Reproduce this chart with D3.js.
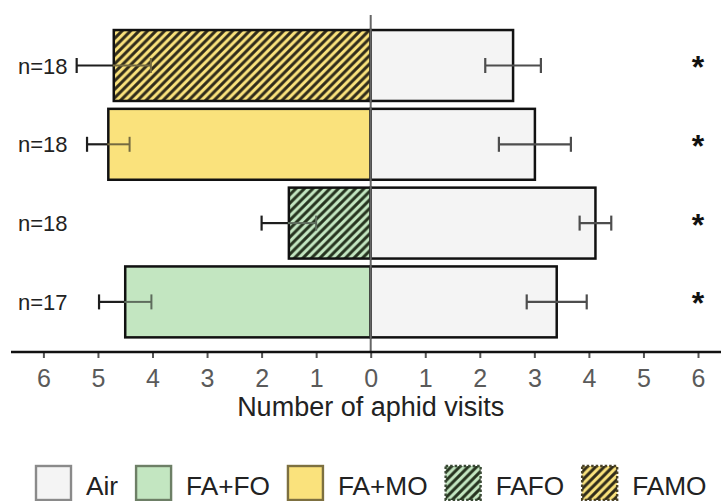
<!DOCTYPE html>
<html>
<head>
<meta charset="utf-8">
<script src="https://cdn.jsdelivr.net/npm/d3@7"></script>
<style>
  html, body { margin: 0; padding: 0; background: #ffffff; }
  svg { display: block; font-family: "Liberation Sans", Arial, sans-serif; }
</style>
</head>
<body>
<svg id="chart" width="721" height="501"></svg>
<script>
// ---------------- data ----------------
const categories = ["FAMO", "FA+MO", "FAFO", "FA+FO"];
const nLabels = ["n=18", "n=18", "n=18", "n=17"];
const treatmentMeans = [4.71, 4.81, 1.50, 4.50];
const treatmentErr = [0.68, 0.39, 0.50, 0.48];
const airMeans = [2.61, 3.01, 4.12, 3.41];
const airErr = [0.51, 0.66, 0.29, 0.55];
const significance = ["*", "*", "*", "*"];
const xTickValues = [-6, -5, -4, -3, -2, -1, 0, 1, 2, 3, 4, 5, 6];
const legendLabels = ["Air", "FA+FO", "FA+MO", "FAFO", "FAMO"];
const axisTitle = "Number of aphid visits";

// ---------------- styles ----------------
const baseColor = { "Air": "#f4f4f4", "FA+FO": "#c3e6c1", "FA+MO": "#fae27c", "FAFO": "#c3e6c1", "FAMO": "#fae27c" };
const hatched = { "FAFO": true, "FAMO": true };
const hatchColor = { "FAFO": "#26331f", "FAMO": "#302b1a" };
const legendStroke = { "Air": "#8a8a8a", "FA+FO": "#6d7f66", "FA+MO": "#7d7040", "FAFO": "#3a4a35", "FAMO": "#4a4228" };

const svg = d3.select("#chart");
const defs = svg.append("defs");

const P = 8.5;
Object.keys(hatched).forEach(k => {
  const p = defs.append("pattern")
    .attr("id", "hatch-" + k.replace(/\W/g, ""))
    .attr("patternUnits", "userSpaceOnUse")
    .attr("width", P).attr("height", P);
  p.append("rect").attr("width", P).attr("height", P).attr("fill", baseColor[k]);
  p.append("path")
    .attr("d", `M-2,2 L2,-2 M0,${P} L${P},0 M${P - 2},${P + 2} L${P + 2},${P - 2}`)
    .attr("stroke", hatchColor[k]).attr("stroke-width", 3).attr("fill", "none");
});
const fillFor = k => hatched[k] ? `url(#hatch-${k.replace(/\W/g, "")})` : baseColor[k];

// ---------------- scales ----------------
const x = d3.scaleLinear().domain([-6, 6]).range([43.4, 698.0]);
const y = d3.scaleBand().domain(categories).range([26.1, 341.3]).paddingInner(0.1).paddingOuter(0.05);
const axisY = 352;

// ---------------- left (treatment) error bars: outside portion ----------------
const capH = 7.5;
categories.forEach((c, i) => {
  const cy = y(c) + y.bandwidth() / 2;
  const m = treatmentMeans[i], e = treatmentErr[i];
  svg.append("line").attr("x1", x(-m)).attr("x2", x(-(m + e))).attr("y1", cy).attr("y2", cy)
    .attr("stroke", "#1e1e1e").attr("stroke-width", 2.2);
  svg.append("line").attr("x1", x(-(m + e))).attr("x2", x(-(m + e))).attr("y1", cy - capH).attr("y2", cy + capH)
    .attr("stroke", "#1e1e1e").attr("stroke-width", 2.2);
});

// ---------------- bars ----------------
categories.forEach((c, i) => {
  svg.append("rect")
    .attr("x", x(-treatmentMeans[i])).attr("y", y(c))
    .attr("width", x(0) - x(-treatmentMeans[i])).attr("height", y.bandwidth())
    .attr("fill", fillFor(c)).attr("stroke", "#111").attr("stroke-width", 2.5);
  svg.append("rect")
    .attr("x", x(0)).attr("y", y(c))
    .attr("width", x(airMeans[i]) - x(0)).attr("height", y.bandwidth())
    .attr("fill", baseColor["Air"]).attr("stroke", "#111").attr("stroke-width", 2.5);
});

// inner portion of left error bars (seen through the bar)
categories.forEach((c, i) => {
  const cy = y(c) + y.bandwidth() / 2;
  const m = treatmentMeans[i], e = treatmentErr[i];
  const inner = d3.interpolateRgb(baseColor[c], "#1a1a1a")(0.6);
  const lo = Math.max(m - e, 0);
  svg.append("line").attr("x1", x(-lo)).attr("x2", x(-m) - 1).attr("y1", cy).attr("y2", cy)
    .attr("stroke", inner).attr("stroke-width", 2);
  svg.append("line").attr("x1", x(-lo)).attr("x2", x(-lo)).attr("y1", cy - capH).attr("y2", cy + capH)
    .attr("stroke", inner).attr("stroke-width", 2);
});

// right (air) error bars
categories.forEach((c, i) => {
  const cy = y(c) + y.bandwidth() / 2;
  const m = airMeans[i], e = airErr[i];
  const g = svg.append("g").attr("stroke", "#4d4d4d").attr("stroke-width", 2.2);
  g.append("line").attr("x1", x(m - e)).attr("x2", x(m + e)).attr("y1", cy).attr("y2", cy);
  g.append("line").attr("x1", x(m - e)).attr("x2", x(m - e)).attr("y1", cy - capH).attr("y2", cy + capH);
  g.append("line").attr("x1", x(m + e)).attr("x2", x(m + e)).attr("y1", cy - capH).attr("y2", cy + capH);
});

// zero line
svg.append("line").attr("x1", x(0)).attr("x2", x(0)).attr("y1", 15).attr("y2", axisY)
  .attr("stroke", "#666").attr("stroke-width", 2);

// ---------------- axis ----------------
const axis = d3.axisBottom(x).tickValues(xTickValues).tickSize(6).tickSizeOuter(0)
  .tickFormat(d => String(Math.abs(d)));
const gAxis = svg.append("g").attr("transform", `translate(0,${axisY})`).call(axis);
gAxis.attr("font-size", null).attr("font-family", null);
gAxis.select(".domain").remove();
gAxis.selectAll(".tick line").attr("stroke", "#555").attr("stroke-width", 2);
gAxis.selectAll(".tick text")
  .attr("y", 35).attr("dy", 0)
  .attr("fill", "#5a5a5a")
  .style("font-size", "25px");
svg.append("line").attr("x1", 11).attr("x2", 721).attr("y1", axisY).attr("y2", axisY)
  .attr("stroke", "#111").attr("stroke-width", 2.4);

svg.append("text")
  .attr("x", x(0)).attr("y", 416)
  .attr("text-anchor", "middle")
  .attr("fill", "#222")
  .style("font-size", "27px")
  .text(axisTitle);

// ---------------- n labels and significance ----------------
categories.forEach((c, i) => {
  const cy = y(c) + y.bandwidth() / 2;
  svg.append("text").attr("x", 18).attr("y", cy + 8)
    .attr("fill", "#222").style("font-size", "22px").text(nLabels[i]);
  svg.append("text").attr("x", 698).attr("y", cy - 6 + 18.4)
    .attr("text-anchor", "middle").attr("fill", "#111")
    .style("font-size", "32px").style("font-weight", "bold").text(significance[i]);
});

// ---------------- legend ----------------
const LEG_SX = 1.05;
let lx = 35;
legendLabels.forEach(k => {
  const box = svg.append("rect")
    .attr("x", lx + 1).attr("y", 466).attr("width", 35).attr("height", 34)
    .attr("fill", fillFor(k)).attr("stroke", legendStroke[k]).attr("stroke-width", 2.4);
  if (hatched[k]) box.attr("stroke-dasharray", "2.5,2");
  lx += 37 + 14;
  const t = svg.append("text")
    .attr("transform", `translate(${lx},495) scale(${LEG_SX},1)`)
    .attr("fill", "#222").style("font-size", "25px").text(k);
  lx += t.node().getComputedTextLength() * LEG_SX + 17;
});
</script>
</body>
</html>
